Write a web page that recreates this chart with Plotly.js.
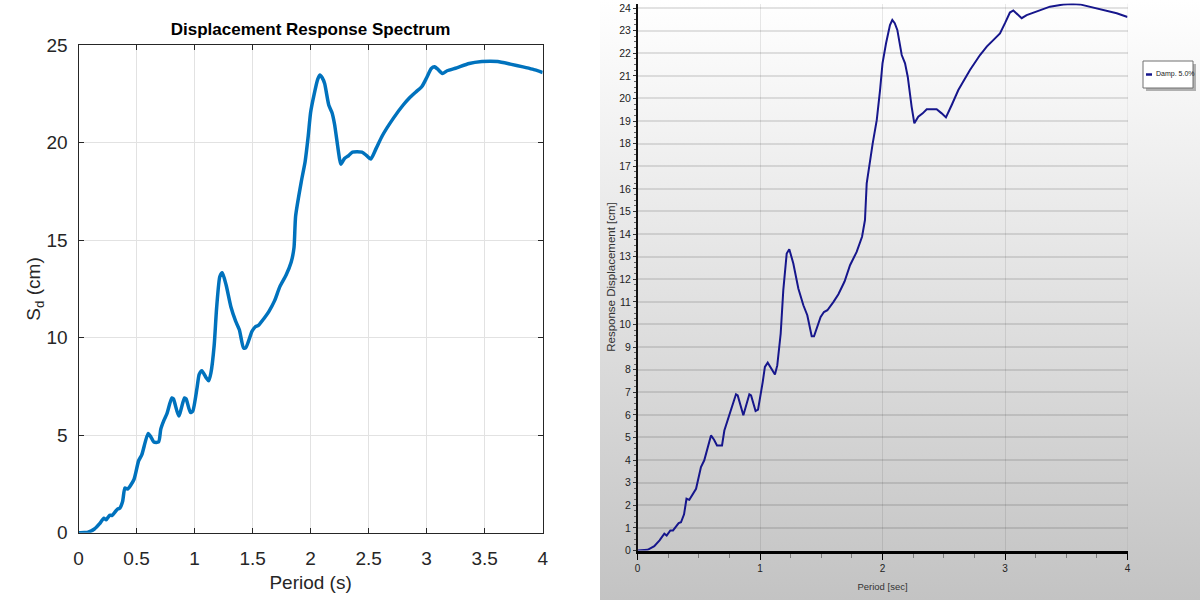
<!DOCTYPE html>
<html>
<head>
<meta charset="utf-8">
<script src="https://cdn.plot.ly/plotly-3.0.1.min.js"></script>
<style>
  html, body { margin: 0; padding: 0; background: #ffffff; }
  #wrap { position: relative; width: 1200px; height: 600px; overflow: hidden; }
  #leftbg { position: absolute; left: 0; top: 0; width: 600px; height: 600px; background: #ffffff; }
  #rightbg { position: absolute; left: 600px; top: 0; width: 600px; height: 600px;
             background: linear-gradient(to bottom, #ffffff 0%, #e4e4e4 45%, #c3c3c3 100%); }
  #chart { position: absolute; left: 0; top: 0; width: 1200px; height: 600px; }
</style>
</head>
<body>
<div id="wrap">
  <div id="leftbg"></div>
  <div id="rightbg"></div>
  <div id="chart"></div>
</div>
<script>
// Period (s) and spectral displacement Sd (cm) (5% damping)
const period = [0, 0.05, 0.083, 0.137, 0.18, 0.219, 0.238, 0.268, 0.29, 0.336,
  0.355, 0.38, 0.40, 0.423, 0.478, 0.518, 0.545, 0.60, 0.625, 0.649,
  0.69, 0.709, 0.736, 0.763, 0.804, 0.818, 0.864, 0.913, 0.927, 0.964,
  0.984, 1.022, 1.04, 1.063, 1.10, 1.122, 1.141, 1.169, 1.19, 1.218,
  1.239, 1.272, 1.313, 1.354, 1.386, 1.422, 1.441, 1.495, 1.522, 1.55,
  1.60, 1.64, 1.69, 1.735, 1.789, 1.833, 1.857, 1.871, 1.92, 1.953,
  1.98, 2.0, 2.029, 2.061, 2.08, 2.1, 2.121, 2.157, 2.184, 2.206,
  2.238, 2.26, 2.292, 2.328, 2.361, 2.442, 2.483, 2.518, 2.565, 2.619,
  2.714, 2.796, 2.851, 2.905, 2.959, 3.0, 3.04, 3.068, 3.095, 3.136,
  3.177, 3.259, 3.367, 3.476, 3.55, 3.612, 3.721, 3.83, 3.912, 4.0];

const sd = [0, 0.01, 0.03, 0.19, 0.45, 0.74, 0.66, 0.89, 0.89, 1.21,
  1.25, 1.6, 2.29, 2.24, 2.73, 3.69, 3.99, 5.09, 4.9, 4.65,
  4.65, 5.31, 5.76, 6.12, 6.91, 6.86, 5.98, 6.91, 6.86, 6.17,
  6.23, 7.45, 8.12, 8.31, 7.95, 7.79, 8.19, 9.6, 11.51, 13.14,
  13.33, 12.7, 11.59, 10.85, 10.41, 9.48, 9.48, 10.33, 10.55, 10.63,
  11.0, 11.34, 11.9, 12.62, 13.21, 13.88, 14.62, 16.24, 18.01, 19.04,
  20.37, 21.55, 22.44, 23.25, 23.47, 23.33, 23.03, 21.92, 21.55, 20.96,
  19.63, 18.9, 19.19, 19.34, 19.52, 19.52, 19.34, 19.16, 19.71, 20.37,
  21.26, 21.92, 22.29, 22.59, 22.88, 23.33, 23.8, 23.89, 23.77, 23.55,
  23.69, 23.84, 24.06, 24.16, 24.18, 24.16, 24.03, 23.89, 23.77, 23.6];

const leftTitle = 'Displacement Response Spectrum';
const leftXTitle = 'Period (s)';
const leftYTitle = 'S<sub>d</sub> (cm)';
const rightXTitle = 'Period [sec]';
const rightYTitle = 'Response Displacement [cm]';
const legendLabel = 'Damp. 5.0%';

const W = 1200, H = 600;
const px = x => x / W;
const py = y => 1 - y / H;

const narrow = '"Liberation Sans Narrow", "Arial Narrow", "Liberation Sans", Arial, sans-serif';
const sans = '"Liberation Sans", Arial, Helvetica, sans-serif';

const traces = [
  {
    x: period, y: sd, xaxis: 'x', yaxis: 'y', type: 'scatter', mode: 'lines',
    line: { color: '#0072BD', width: 3.5, shape: 'spline', smoothing: 0.6 },
    name: 'Sd', showlegend: false, hoverinfo: 'x+y'
  },
  {
    x: period, y: sd, xaxis: 'x2', yaxis: 'y2', type: 'scatter', mode: 'lines',
    line: { color: '#16168c', width: 2 },
    name: legendLabel, showlegend: false, hoverinfo: 'x+y'
  }
];

const layout = {
  width: W, height: H,
  margin: { l: 0, r: 0, t: 0, b: 0 },
  paper_bgcolor: 'rgba(0,0,0,0)',
  plot_bgcolor: 'rgba(0,0,0,0)',
  showlegend: false,
  title: {
    text: '<b>' + leftTitle + '</b>',
    font: { family: narrow, size: 17, color: '#000000' },
    x: px(310.6), xanchor: 'center', xref: 'paper',
    y: py(29), yanchor: 'middle', yref: 'paper'
  },
  xaxis: {
    domain: [px(78.5), px(542.7)], anchor: 'y',
    range: [0, 4], tick0: 0, dtick: 0.5,
    ticks: 'inside', ticklen: 5, tickcolor: '#262626', mirror: 'ticks',
    showline: true, linecolor: '#262626', linewidth: 1,
    showgrid: true, gridcolor: '#e2e2e2', gridwidth: 1, zeroline: false,
    tickfont: { family: narrow, size: 19, color: '#262626' },
    ticklabelstandoff: 8,
    title: { text: leftXTitle, font: { family: narrow, size: 19, color: '#262626' }, standoff: 8 },
    fixedrange: true
  },
  yaxis: {
    domain: [py(532.7), py(45.2)], anchor: 'x',
    range: [0, 25], tick0: 0, dtick: 5,
    ticks: 'inside', ticklen: 5, tickcolor: '#262626', mirror: 'ticks',
    showline: true, linecolor: '#262626', linewidth: 1,
    showgrid: true, gridcolor: '#e2e2e2', gridwidth: 1, zeroline: false,
    tickfont: { family: narrow, size: 19, color: '#262626' },
    ticklabelstandoff: 6,
    title: { text: leftYTitle, font: { family: sans, size: 19, color: '#262626' }, standoff: 0 },
    fixedrange: true
  },
  xaxis2: {
    domain: [px(637.5), px(1127.5)], anchor: 'y2',
    range: [0, 4], tick0: 0, dtick: 1,
    ticks: 'outside', ticklen: 6, tickcolor: '#000000', tickwidth: 1,
    showline: true, linecolor: '#000000', linewidth: 3,
    showgrid: true, gridcolor: 'rgba(0,0,0,0.09)', gridwidth: 1, zeroline: false,
    minor: { dtick: 0.25, ticks: 'outside', ticklen: 4, tickcolor: '#7a7a7a', showgrid: false },
    tickfont: { family: narrow, size: 10, color: '#222222' },
    title: { text: rightXTitle, font: { family: narrow, size: 9.5, color: '#333333' }, standoff: 11 },
    fixedrange: true
  },
  yaxis2: {
    domain: [py(550.5), py(3.5)], anchor: 'x2',
    range: [0, 24.2], tick0: 0, dtick: 1,
    ticks: 'outside', ticklen: 3, tickcolor: '#333333', tickwidth: 1,
    showline: true, linecolor: '#111111', linewidth: 1.5,
    showgrid: true, gridcolor: 'rgba(0,0,0,0.11)', gridwidth: 2, zeroline: false,
    minor: { dtick: 0.25, ticks: 'outside', ticklen: 2, tickcolor: '#666666', showgrid: false },
    tickfont: { family: narrow, size: 10.5, color: '#222222' },
    title: { text: rightYTitle, font: { family: sans, size: 11.5, color: '#333333' }, standoff: 1 },
    fixedrange: true
  },
  shapes: [
    // vertical grid line at the right edge (x = 4) of the right chart
    { type: 'line', xref: 'x2', yref: 'paper', x0: 4, x1: 4, y0: py(550.5), y1: py(3.5),
      line: { color: 'rgba(0,0,0,0.09)', width: 1 }, layer: 'below' },
    // legend shadow
    { type: 'rect', xref: 'paper', yref: 'paper', x0: px(1146), x1: px(1196), y0: py(91), y1: py(64),
      fillcolor: 'rgba(90,90,90,0.45)', line: { width: 0 } },
    // legend box
    { type: 'rect', xref: 'paper', yref: 'paper', x0: px(1143), x1: px(1193), y0: py(88), y1: py(61),
      fillcolor: '#ffffff', line: { color: '#707070', width: 1 } },
    // legend line sample
    { type: 'line', xref: 'paper', yref: 'paper', x0: px(1146), x1: px(1152), y0: py(74.5), y1: py(74.5),
      line: { color: '#16168c', width: 2.5 } }
  ],
  annotations: [
    { text: legendLabel, xref: 'paper', yref: 'paper', x: px(1153.5), y: py(74.5),
      xanchor: 'left', yanchor: 'middle', showarrow: false,
      font: { family: narrow, size: 7, color: '#222222' } }
  ]
};

Plotly.newPlot('chart', traces, layout, { displayModeBar: false, staticPlot: true });
</script>
</body>
</html>
